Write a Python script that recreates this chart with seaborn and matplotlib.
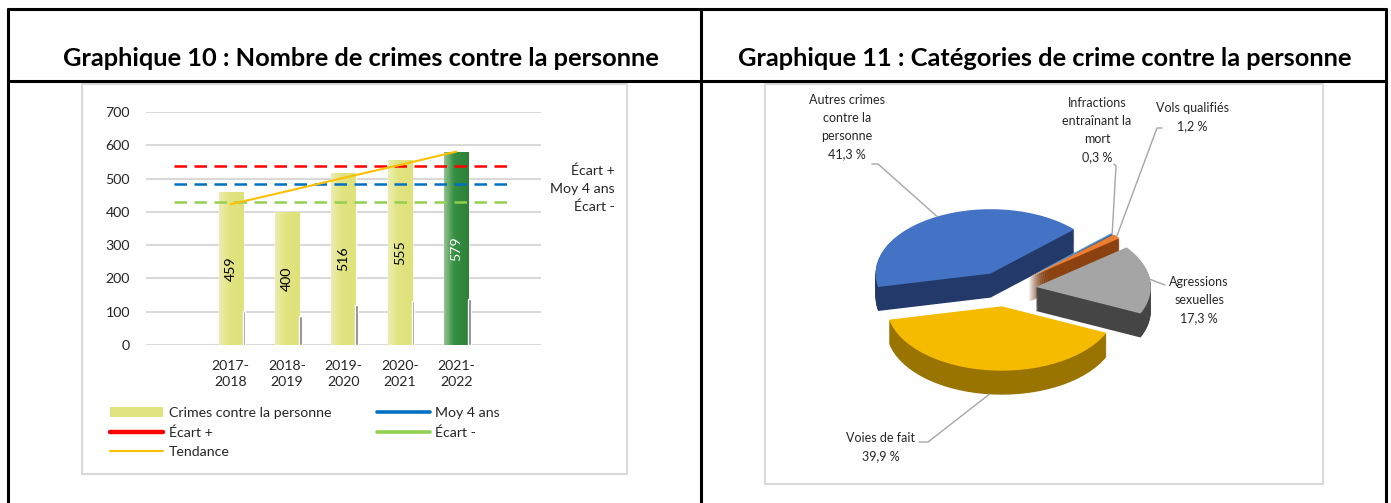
import numpy as np
import matplotlib
matplotlib.use("Agg")
import matplotlib.pyplot as plt
import matplotlib.colors as mcolors
import seaborn as sns
from matplotlib.lines import Line2D
from matplotlib.patches import Patch, Rectangle

# ---------------- Data ----------------
periodes = ["2017-\n2018", "2018-\n2019", "2019-\n2020", "2020-\n2021", "2021-\n2022"]
crimes = [459, 400, 516, 555, 579]
ombre = [103, 87, 120, 133, 138]
tendance = [423, 462, 502, 541, 581]
moy_4_ans = 483
ecart_plus = 539
ecart_moins = 430
y_ticks = [0, 100, 200, 300, 400, 500, 600, 700]

pie_labels = ["Autres crimes\ncontre la\npersonne", "Infractions\nentraînant la\nmort",
              "Vols qualifiés", "Agressions\nsexuelles", "Voies de fait"]
pie_values = [41.3, 0.3, 1.2, 17.3, 39.9]
pie_pct = ["41,3 %", "0,3 %", "1,2 %", "17,3 %", "39,9 %"]

titre_10 = "Graphique 10 : Nombre de crimes contre la personne"
titre_11 = "Graphique 11 : Catégories de crime contre la personne"

# ---------------- Style ----------------
W, H = 1391, 503
sns.set_theme(style="white")
plt.rcParams['font.family'] = ['Lato', 'DejaVu Sans']
TXT = '#262626'
FS = 10.2

fig = plt.figure(figsize=(W / 100, H / 100), dpi=100)
fig.patch.set_facecolor('white')


def fx(x):
    return x / W


def fy(y):
    return 1 - y / H


def rect(x0, y0, x1, y1):
    return [x0 / W, 1 - y1 / H, (x1 - x0) / W, (y1 - y0) / H]


def fline(xs, ys, **kw):
    fig.add_artist(Line2D([fx(x) for x in xs], [fy(y) for y in ys],
                          transform=fig.transFigure, **kw))


# ---------------- Table frame ----------------
lw_t = 2.2
fline([8, 1386], [9, 9], color='black', lw=lw_t)
fline([8, 1386], [81, 81], color='black', lw=lw_t)
fline([8, 8], [9, 503], color='black', lw=lw_t)
fline([701, 701], [9, 503], color='black', lw=lw_t)
fline([1386, 1386], [9, 503], color='black', lw=lw_t)

fig.text(fx(361), fy(58), titre_10, ha='center', va='center', fontsize=18.3,
         fontweight='bold', color='black')
fig.text(fx(1045), fy(58), titre_11, ha='center', va='center', fontsize=18.3,
         fontweight='bold', color='black')

# chart boxes
for (x0, y0, x1, y1) in [(82, 84, 627, 474), (765, 84, 1323, 484)]:
    fig.add_artist(Rectangle((fx(x0), fy(y1)), (x1 - x0) / W, (y1 - y0) / H,
                             transform=fig.transFigure, fill=False,
                             edgecolor='#D9D9D9', lw=1.5))

# ---------------- Bar chart ----------------
ax = fig.add_axes(rect(146, 112, 541, 345))
bar_cols = ['#E1E37E'] * 4 + ['#2E8B3E']
sns.barplot(x=periodes, y=crimes, hue=periodes, palette=bar_cols, legend=False,
            width=0.43, ax=ax, saturation=1, zorder=3)

bars = list(ax.patches)
grads = [('#ECEDB2', '#E2E482', '#DFE17A')] * 4 + [('#93C390', '#368F43', '#2E8038')]
for p, (c0, c1, c2) in zip(bars, grads):
    x, w, h = p.get_x(), p.get_width(), p.get_height()
    cmap = mcolors.LinearSegmentedColormap.from_list('g', [(0, c0), (0.4, c1), (1, c2)])
    g = cmap(np.linspace(0, 1, 64))[None, :, :]
    im = ax.imshow(g, extent=[x, x + w, 0, h], aspect='auto', zorder=3.1,
                   interpolation='bilinear')
    im.set_clip_path(p)

for p, s in zip(bars, ombre):
    ax.bar(p.get_x() + p.get_width() + 0.02, s, width=0.045, color='#7F7F7F',
           zorder=3.2)

for i, (p, v) in enumerate(zip(bars, crimes)):
    ax.text(p.get_x() + p.get_width() / 2, v / 2, str(v), rotation=90,
            ha='center', va='center', fontsize=FS,
            color='white' if i == 4 else 'black', zorder=5)

ax.hlines(ecart_plus, -1, 5, colors='#FF0000', lw=1.8, linestyles=(0, (5, 3)), zorder=4)
ax.hlines(moy_4_ans, -1, 5, colors='#0070C0', lw=1.8, linestyles=(0, (5, 3)), zorder=4)
ax.hlines(ecart_moins, -1, 5, colors='#92D050', lw=1.8, linestyles=(0, (5, 3)), zorder=4)
ax.plot(range(len(tendance)), tendance, color='#FFC000', lw=1.5, zorder=4.5)

for val, lab in [(ecart_plus, 'Écart +'), (moy_4_ans, 'Moy 4 ans'), (ecart_moins, 'Écart -')]:
    ax.annotate(lab, xy=(1, val), xycoords=ax.get_yaxis_transform(),
                xytext=(53, -3.5), textcoords='offset points', ha='right',
                va='center', fontsize=FS, color=TXT, annotation_clip=False)

ax.set_xlim(-1.5, 5.5)
ax.set_ylim(0, 700)
ax.set_yticks(y_ticks)
ax.set_yticklabels([str(t) for t in y_ticks])
ax.yaxis.grid(True, color='#D9D9D9', lw=1.5, zorder=0)
ax.set_axisbelow(True)
for sp in ax.spines.values():
    sp.set_visible(False)
ax.tick_params(axis='y', length=0, pad=11.5, labelsize=FS, labelcolor=TXT)
ax.tick_params(axis='x', length=0, pad=11, labelsize=FS, labelcolor=TXT)
for t in ax.get_xticklabels():
    t.set_linespacing(1.42)
ax.set_xlabel('')
ax.set_ylabel('')
ax.set_facecolor('none')

handles = [Patch(facecolor='#E1E37E', edgecolor='none'),
           Line2D([], [], color='#FF0000', lw=3.2),
           Line2D([], [], color='#FFC000', lw=1.5),
           Line2D([], [], color='#0070C0', lw=2.6),
           Line2D([], [], color='#92D050', lw=2.6)]
labels = ['Crimes contre la personne', 'Écart +', 'Tendance', 'Moy 4 ans', 'Écart -']
fig.legend(handles, labels, ncol=2, loc='upper left',
           bbox_to_anchor=(fx(110), fy(407)), frameon=False, fontsize=FS,
           handlelength=3.75, handletextpad=0.4, columnspacing=3.2,
           labelspacing=0.52, borderpad=0, borderaxespad=0, labelcolor=TXT)

# ---------------- 3D-like pie ----------------
axp = fig.add_axes(rect(770, 90, 1318, 480))
R = 115.0
SQ = 0.56
cx, cy = 1005, 289
top_cols = ['#4472C4', '#5B9BD5', '#ED7D31', '#A5A5A5', '#F5BB00']
side_cols = ['#22396A', '#2E5B8A', '#8B4210', '#454545', '#9A7400']
explode = [0.27] * 5
start = 192.0
depth = 24 / (R * SQ)
n_layers = 26
for k in range(n_layers, 0, -1):
    axp.pie(pie_values, explode=explode, colors=side_cols, startangle=start,
            counterclock=False, center=(0, -depth * k / n_layers),
            wedgeprops=dict(linewidth=0, antialiased=True))
wedges, _ = axp.pie(pie_values, explode=explode, colors=top_cols, startangle=start,
                    counterclock=False, center=(0, 0),
                    wedgeprops=dict(linewidth=0, antialiased=True))
axp.set_aspect('auto')
axp.set_xlim((770 - cx) / R, (1318 - cx) / R)
axp.set_ylim(-(480 - cy) / (R * SQ), (cy - 90) / (R * SQ))
axp.axis('off')

# labels for pie
lab_pos = [(847, 127), (1097, 130), (1192, 117), (1199, 300), (881, 447)]
for (lx, ly), lab, pct in zip(lab_pos, pie_labels, pie_pct):
    fig.text(fx(lx), fy(ly), lab + "\n" + pct, ha='center', va='center',
             fontsize=9, color=TXT, linespacing=1.62)

# leader lines: label side points (layout) + rim point from wedge geometry
leader_pts = [[(872, 164), (878, 164)],
              [(1114, 164), (1116, 166)],
              [(1162, 128), (1157, 128)],
              [(1165, 285)],
              [(919, 442), (928, 442)]]
for idx, (w, pts) in enumerate(zip(wedges, leader_pts)):
    mid = np.deg2rad((w.theta1 + w.theta2) / 2)
    px_, py_ = w.center[0] + np.cos(mid) * w.r, w.center[1] + np.sin(mid) * w.r
    if idx == 4:
        py_ -= depth
    disp = axp.transData.transform((px_, py_))
    rx, ry = disp[0], H - disp[1]
    xs = [p[0] for p in pts] + [rx]
    ys = [p[1] for p in pts] + [ry]
    fline(xs, ys, color='#A6A6A6', lw=1.0)

fig.savefig('out.png', dpi=100, facecolor='white')
